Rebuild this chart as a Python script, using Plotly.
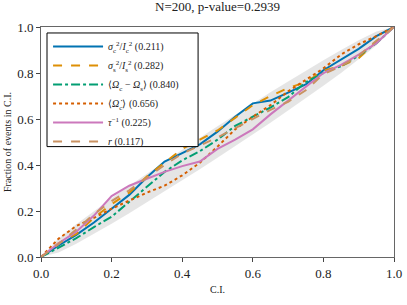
import plotly.graph_objects as go

# C.I. grid
ci = [0.0, 0.05, 0.10, 0.15, 0.20, 0.25, 0.30, 0.35, 0.40, 0.45, 0.50,
      0.55, 0.60, 0.65, 0.70, 0.75, 0.80, 0.85, 0.90, 0.95, 1.0]

# confidence band (lower / upper)
band_lower = [0.0, 0.020, 0.058, 0.100, 0.145, 0.190, 0.237, 0.284, 0.332, 0.381, 0.431,
              0.481, 0.532, 0.584, 0.637, 0.690, 0.745, 0.800, 0.858, 0.920, 1.0]
band_upper = [0.0, 0.080, 0.142, 0.200, 0.255, 0.310, 0.363, 0.416, 0.468, 0.519, 0.569,
              0.619, 0.668, 0.716, 0.763, 0.810, 0.855, 0.900, 0.942, 0.980, 1.0]

# series (fraction of events in C.I.)
sig_c = [0.0, 0.050, 0.096, 0.150, 0.210, 0.270, 0.347, 0.415, 0.452, 0.490, 0.545,
         0.610, 0.668, 0.680, 0.715, 0.750, 0.812, 0.860, 0.905, 0.960, 1.0]
sig_s = [0.0, 0.060, 0.100, 0.170, 0.230, 0.280, 0.350, 0.410, 0.470, 0.510, 0.550,
         0.605, 0.660, 0.700, 0.735, 0.760, 0.810, 0.830, 0.865, 0.935, 1.0]
om_diff = [0.0, 0.040, 0.082, 0.130, 0.175, 0.240, 0.305, 0.370, 0.420, 0.460, 0.510,
           0.570, 0.610, 0.650, 0.695, 0.760, 0.800, 0.830, 0.875, 0.930, 1.0]
om_dot = [0.0, 0.080, 0.135, 0.170, 0.210, 0.245, 0.280, 0.310, 0.355, 0.410, 0.480,
          0.555, 0.610, 0.660, 0.720, 0.770, 0.820, 0.880, 0.925, 0.960, 1.0]
tau_inv = [0.0, 0.060, 0.110, 0.180, 0.265, 0.310, 0.340, 0.370, 0.395, 0.415, 0.470,
           0.510, 0.555, 0.620, 0.680, 0.740, 0.800, 0.835, 0.880, 0.930, 1.0]
r_ser = [0.0, 0.056, 0.120, 0.186, 0.243, 0.290, 0.345, 0.400, 0.450, 0.485, 0.520,
         0.560, 0.600, 0.640, 0.675, 0.725, 0.795, 0.830, 0.875, 0.940, 1.0]

labels = [
    "<i>σ</i><sub>c</sub><sup>2</sup>/<i>I</i><sub>c</sub><sup>2</sup> (0.211)",
    "<i>σ</i><sub>s</sub><sup>2</sup>/<i>I</i><sub>s</sub><sup>2</sup> (0.282)",
    "⟨<i>Ω</i><sub>c</sub> − <i>Ω</i><sub>s</sub>⟩ (0.840)",
    "⟨<i>Ω̇</i><sub>c</sub>⟩ (0.656)",
    "<i>τ</i><sup>−1</sup> (0.225)",
    "<i>r</i> (0.117)",
]
series = [sig_c, sig_s, om_diff, om_dot, tau_inv, r_ser]
colors = ["#0173b2", "#de8f05", "#029e73", "#d55e00", "#cc78bc", "#ca9161"]
dashes = ["solid", "dash", "dashdot", "dot", "solid", "dash"]

fig = go.Figure()
fig.add_trace(go.Scatter(x=ci, y=band_lower, mode="lines", line=dict(width=0),
                         showlegend=False, hoverinfo="skip"))
fig.add_trace(go.Scatter(x=ci, y=band_upper, mode="lines", line=dict(width=0),
                         fill="tonexty", fillcolor="rgba(0,0,0,0.1)",
                         showlegend=False, hoverinfo="skip"))
for lab, s, c, d in zip(labels, series, colors, dashes):
    fig.add_trace(go.Scatter(x=ci, y=s, mode="lines", name=lab,
                             line=dict(color=c, width=2, dash=d)))

font_family = "Liberation Serif"
axis_common = dict(range=[0, 1], dtick=0.2, tickformat=".1f", ticks="outside",
                   ticklen=4, tickcolor="#444", linecolor="#666", linewidth=1,
                   mirror=True, showline=True, showgrid=False, zeroline=False,
                   automargin=False,
                   tickfont=dict(family=font_family, size=13, color="#222"))

# legend frame drawn as a box behind the legend entries
fig.add_shape(type="rect", xref="paper", yref="paper", x0=0.017, x1=0.445,
              y0=0.48, y1=0.974, fillcolor="white",
              line=dict(color="black", width=1), layer="above")

fig.update_layout(
    width=407, height=305,
    margin=dict(l=41, r=13, t=27, b=48),
    paper_bgcolor="white", plot_bgcolor="white",
    title=dict(text="N=200, p-value=0.2939", x=0.5, xref="paper", xanchor="center",
               y=1, yref="container", yanchor="top", pad=dict(t=2), automargin=False,
               font=dict(family=font_family, size=13, color="#222")),
    xaxis=dict(**axis_common, title=dict(text="C.I.", standoff=6,
               font=dict(family=font_family, size=10, color="#222"))),
    yaxis=dict(**axis_common, title=dict(text="Fraction of events in C.I.", standoff=3,
               font=dict(family=font_family, size=10, color="#222"))),
    legend=dict(x=0.02, y=0.978, xanchor="left", yanchor="top",
                bgcolor="rgba(0,0,0,0)", borderwidth=0,
                font=dict(family=font_family, size=10, color="#222"),
                itemwidth=50, traceorder="normal", tracegroupgap=0),
    showlegend=True,
)

fig.write_html("out.html", config={"displayModeBar": False},
               post_script="document.body.style.margin='0';document.body.style.padding='0';")
